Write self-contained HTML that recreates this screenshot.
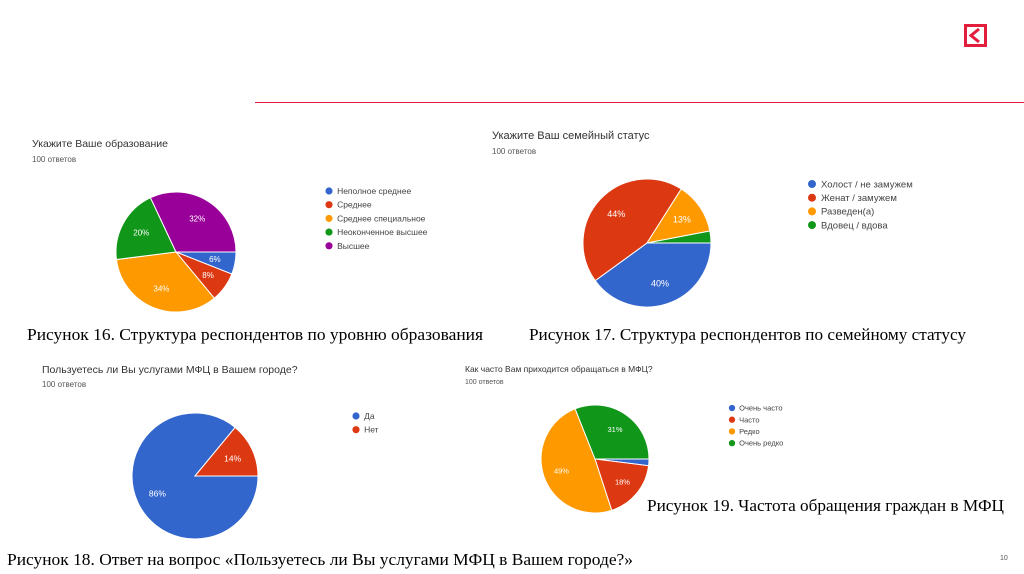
<!DOCTYPE html>
<html><head><meta charset="utf-8"><style>
html,body{margin:0;padding:0;background:#fff;}
svg{display:block;}
.t{font-family:"Liberation Sans",sans-serif;fill:#333;}
.s{font-family:"Liberation Sans",sans-serif;fill:#555;}
.c{font-family:"Liberation Serif",serif;fill:#000;font-size:17px;}
</style></head><body>
<svg id="root" width="1024" height="574" viewBox="0 0 1024 574">
<line x1="255" y1="102.5" x2="1024" y2="102.5" stroke="#e31e3c" stroke-width="1"/>
<g>
<rect x="965.5" y="25.5" width="20" height="20" fill="none" stroke="#e31e3c" stroke-width="3"/>
<path d="M979 29 L971 35.5 L979 42" fill="none" stroke="#e31e3c" stroke-width="3"/>
</g>
<text class="t" x="32" y="147" font-size="10.5">Укажите Ваше образование</text>
<text class="s" x="32" y="162" font-size="8">100 ответов</text>
<text class="t" x="492" y="139" font-size="11">Укажите Ваш семейный статус</text>
<text class="s" x="492" y="154" font-size="8">100 ответов</text>
<text class="t" x="42" y="373" font-size="10.5">Пользуетесь ли Вы услугами МФЦ в Вашем городе?</text>
<text class="s" x="42" y="387" font-size="8">100 ответов</text>
<text class="t" x="465" y="372" font-size="8.5">Как часто Вам приходится обращаться в МФЦ?</text>
<text class="s" x="465" y="384" font-size="7">100 ответов</text>
<text class="c" x="27" y="340" textLength="456" lengthAdjust="spacingAndGlyphs">Рисунок 16. Структура респондентов по уровню образования</text>
<text class="c" x="529" y="340" textLength="437" lengthAdjust="spacingAndGlyphs">Рисунок 17. Структура респондентов по семейному статусу</text>
<text class="c" x="647" y="511" textLength="357" lengthAdjust="spacingAndGlyphs">Рисунок 19. Частота обращения граждан в МФЦ</text>
<text class="c" x="7" y="565" textLength="626" lengthAdjust="spacingAndGlyphs">Рисунок 18. Ответ на вопрос «Пользуетесь ли Вы услугами МФЦ в Вашем городе?»</text>
<text class="s" x="1000" y="560" font-size="7" fill="#aaa">10</text>
</svg>
<script>
const COLORS=["#3366cc","#dc3912","#ff9900","#109618","#990099"];
const eduLabels=["Неполное среднее","Среднее","Среднее специальное","Неоконченное высшее","Высшее"];
const eduValues=[6,8,34,20,32];
const famLabels=["Холост / не замужем","Женат / замужем","Разведен(а)","Вдовец / вдова"];
const famValues=[40,44,13,3];
const useLabels=["Да","Нет"];
const useValues=[86,14];
const freqLabels=["Очень часто","Часто","Редко","Очень редко"];
const freqValues=[2,18,49,31];
const NS="http://www.w3.org/2000/svg";
const root=document.getElementById('root');
function mk(tag,attrs){const e=document.createElementNS(NS,tag);for(const k in attrs)e.setAttribute(k,attrs[k]);return e;}
function pie(id,labels,values,cx,cy,r,lx,ly,lstep,lfs,pfs){
  const g=mk('g',{});
  
  
  root.appendChild(g);
  const tot=values.reduce((a,b)=>a+b,0);
  let a0=0;
  values.forEach((v,i)=>{
    const a1=a0+v/tot*2*Math.PI;
    const x0=cx+r*Math.cos(a0),y0=cy+r*Math.sin(a0),x1=cx+r*Math.cos(a1),y1=cy+r*Math.sin(a1);
    const large=(a1-a0)>Math.PI?1:0;
    const p=mk('path',{d:`M${cx},${cy}L${x0},${y0}A${r},${r} 0 ${large} 1 ${x1},${y1}Z`,fill:COLORS[i],stroke:'#fff','stroke-width':1});
    
    
    g.appendChild(p);
    if(v/tot>=0.05){
      const am=(a0+a1)/2;
      const t=mk('text',{x:cx+r*0.66*Math.cos(am),y:cy+r*0.66*Math.sin(am)+pfs*0.35,'text-anchor':'middle','font-size':pfs,fill:'#fff','font-family':'Liberation Sans, sans-serif'});
      t.textContent=Math.round(v/tot*100)+'%';
      
      
      g.appendChild(t);
    }
    a0=a1;
  });
  labels.forEach((l,i)=>{
    const y=ly+i*lstep;
    const c=mk('circle',{cx:lx,cy:y,r:lfs*0.42,fill:COLORS[i]});
    
    
    root.appendChild(c);
    const t=mk('text',{x:lx+lfs*0.95,y:y+lfs*0.35,'font-size':lfs,fill:'#444','font-family':'Liberation Sans, sans-serif'});
    t.textContent=l;
    
    
    root.appendChild(t);
  });
}
pie('education',eduLabels,eduValues,176,252,60,329,191,13.7,8.5,8);
pie('family',famLabels,famValues,647,243,64,812,184,13.7,9.5,9);
pie('usage',useLabels,useValues,195,476,63,356,416,13.7,8.5,8.5);
pie('frequency',freqLabels,freqValues,595,459,54,732,408,11.7,7.5,7.5);
</script>
</body></html>
